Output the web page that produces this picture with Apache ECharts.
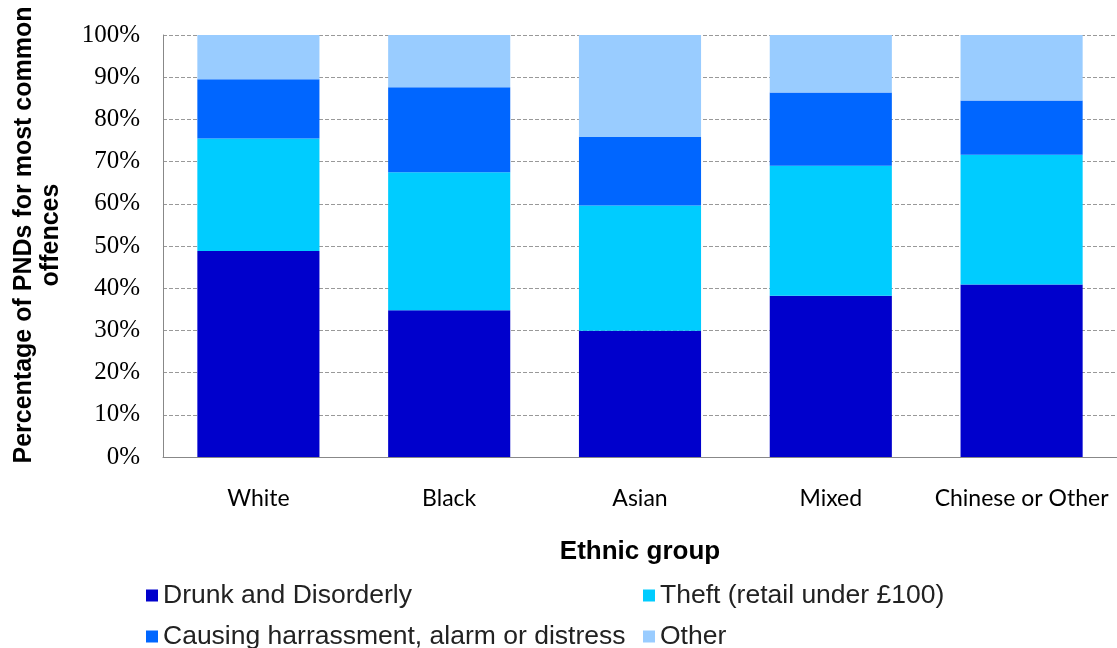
<!DOCTYPE html>
<html><head><meta charset="utf-8">
<script src="https://cdn.jsdelivr.net/npm/echarts@6/dist/echarts.min.js"></script>
<style>html,body{margin:0;padding:0;background:#fff}#c{width:1117px;height:648px}</style>
</head><body><div id="c"></div>
<script>
const categories = ["White", "Black", "Asian", "Mixed", "Chinese or Other"];
const drunk = [48.8, 34.8, 29.9, 38.2, 40.9];
const theft = [26.7, 32.7, 29.7, 30.8, 30.7];
const harass = [14.0, 20.1, 16.2, 17.4, 12.9];
const other = [10.5, 12.4, 24.2, 13.6, 15.5];
const seriesNames = ["Drunk and Disorderly", "Theft (retail under £100)", "Causing harrassment, alarm or distress", "Other"];
const colors = ["#0000CC", "#00CCFF", "#0066FF", "#99CCFF"];

const chart = echarts.init(document.getElementById('c'));
const dataSets = [drunk, theft, harass, other];
const legendPos = [[146, 582], [643, 582], [146, 623], [643, 623]];
chart.setOption({
  animation: false,
  grid: {left: 163, right: -1, top: 35, bottom: 191, containLabel: false},
  legend: seriesNames.map((n, i) => ({
    data: [n], left: legendPos[i][0], top: legendPos[i][1],
    itemWidth: 12, itemHeight: 12, icon: 'rect', itemGap: 4, padding: 0,
    textStyle: {fontFamily: 'Liberation Sans, Arial', fontSize: 26.5, color: '#222'}
  })),
  xAxis: {
    type: 'category', data: categories,
    name: 'Ethnic group', nameLocation: 'middle', nameGap: 82,
    nameTextStyle: {fontFamily: 'Liberation Sans, Arial', fontSize: 26, fontWeight: 'bold', color: '#000'},
    axisLine: {lineStyle: {color: '#888', width: 1}},
    axisTick: {show: false},
    axisLabel: {interval: 0, hideOverlap: false, fontFamily: 'Lato, Open Sans, sans-serif', fontSize: 23, color: '#000', margin: 30}
  },
  yAxis: {
    type: 'value', min: 0, max: 100, interval: 10,
    name: 'Percentage of PNDs for most common\noffences', nameLocation: 'middle', nameGap: 98, nameRotate: 90,
    nameTextStyle: {fontFamily: 'Liberation Sans, Arial', fontSize: 25, fontWeight: 'bold', color: '#000', lineHeight: 27, padding: [0, 0, 0, 22]},
    axisLine: {show: true, lineStyle: {color: '#888', width: 1}},
    axisTick: {show: false},
    axisLabel: {formatter: '{value}%', fontFamily: 'Liberation Serif, Times New Roman', fontSize: 25, color: '#000', margin: 23},
    splitLine: {lineStyle: {color: '#999', type: [4, 2], width: 1}}
  },
  series: seriesNames.map((n, i) => ({
    name: n, type: 'bar', stack: 'total', data: dataSets[i],
    barWidth: '64%', itemStyle: {color: colors[i]}
  }))
});
</script></body></html>
